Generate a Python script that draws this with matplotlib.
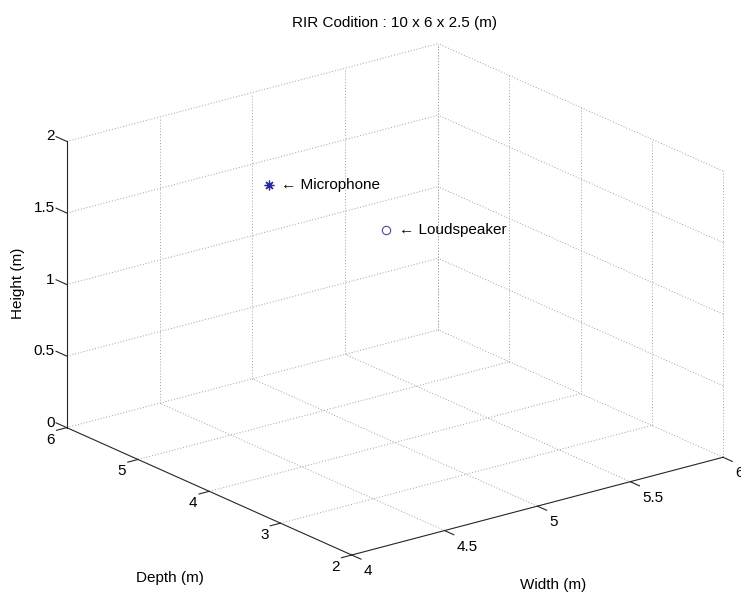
import numpy as np
import matplotlib
matplotlib.use('Agg')
import matplotlib.pyplot as plt

plt.rcParams['font.family'] = ['Liberation Sans', 'DejaVu Sans']

# ---------------- data ----------------
title = 'RIR Codition : 10 x 6 x 2.5 (m)'
width_ticks = [4, 4.5, 5, 5.5, 6]
width_labels = ['4', '4.5', '5', '5.5', '6']
depth_ticks = [2, 3, 4, 5, 6]
depth_labels = ['2', '3', '4', '5', '6']
height_ticks = [0, 0.5, 1, 1.5, 2]
height_labels = ['0', '0.5', '1', '1.5', '2']
mic_pos = [4.9, 5.5, 1.5]          # width, depth, height
speaker_pos = [4.95, 4.0, 1.5]
mic_label = '\u2190 Microphone'
speaker_label = '\u2190 Loudspeaker'

# ---------------- figure ----------------
W, H = 741, 593
fig = plt.figure(figsize=(W / 100, H / 100), dpi=100)
ax = fig.add_axes([0, 0, 1, 1], projection='3d', proj_type='ortho')
ax.set_box_aspect((1, 1, 0.651))
ax.view_init(elev=20.06, azim=-127.5)
ax.set_axis_off()

x0, x1 = width_ticks[0], width_ticks[-1]
y0, y1 = depth_ticks[0], depth_ticks[-1]
z0, z1 = height_ticks[0], height_ticks[-1]

FS = 11
grid_kw = dict(color='#a0a0a0', lw=0.7, ls=(0, (1, 2)))
axis_kw = dict(color='#262626', lw=0.8)

# grid on floor (z = z0)
for xv in width_ticks[1:]:
    ax.plot([xv, xv], [y0, y1], [z0, z0], **grid_kw)
for yv in depth_ticks[1:]:
    ax.plot([x0, x1], [yv, yv], [z0, z0], **grid_kw)
# grid on back wall y = y1
for xv in width_ticks[1:]:
    ax.plot([xv, xv], [y1, y1], [z0, z1], **grid_kw)
for zv in height_ticks[1:]:
    ax.plot([x0, x1], [y1, y1], [zv, zv], **grid_kw)
# grid on back wall x = x1
for yv in depth_ticks:
    ax.plot([x1, x1], [yv, yv], [z0, z1], **grid_kw)
for zv in height_ticks[1:]:
    ax.plot([x1, x1], [y0, y1], [zv, zv], **grid_kw)

# axis lines
ax.plot([x0, x1], [y0, y0], [z0, z0], **axis_kw)
ax.plot([x0, x0], [y0, y1], [z0, z0], **axis_kw)
ax.plot([x0, x0], [y1, y1], [z0, z1], **axis_kw)

# tick marks
for xv in width_ticks:
    ax.plot([xv, xv], [y0, y0 - 0.13], [z0, z0], **axis_kw)
for yv in depth_ticks:
    ax.plot([x0, x0 - 0.055], [yv, yv], [z0, z0], **axis_kw)
for zv in height_ticks:
    ax.plot([x0, x0], [y1, y1 + 0.15], [zv, zv], **axis_kw)

# points
ax.plot([mic_pos[0]], [mic_pos[1]], [mic_pos[2]], ls='none', marker=(8, 2, 0),
        ms=7, color='#2b2b9a', mew=0.9)
ax.plot([speaker_pos[0]], [speaker_pos[1]], [speaker_pos[2]], ls='none',
        marker='o', ms=6, mfc='none', mec='#4b4b9b', mew=0.8)

ax.set_xlim(x0, x1)
ax.set_ylim(y0, y1)
ax.set_zlim(z0, z1)

# ---------------- calibrate layout ----------------
fig.canvas.draw()


def to_px(x, y, z):
    M = ax.get_proj()
    v = M @ np.array([x, y, z, 1.0])
    v = v[:3] / v[3]
    return ax.transData.transform((v[0], v[1]))


O = to_px(x0, y0, z0)
L = to_px(x0, y1, z0)
R = to_px(x1, y0, z0)
s = (723.0 - 66.7) / (R[0] - L[0])
bb = ax.get_position()
bx0, by0, bw = bb.x0 * W, bb.y0 * H, bb.width * W
fo = (O - np.array([bx0, by0])) / bw
new_w = bw * s
tx, ty = 351.7, H - 555.0
nx0 = tx - fo[0] * new_w
ny0 = ty - fo[1] * new_w
ax.set_position([nx0 / W, ny0 / H, new_w / W, new_w / H])
fig.canvas.draw()


def label_at(x, y, z, text, dx, dy, **kw):
    px, py = to_px(x, y, z)
    fig.text((px + dx) / W, (py + dy) / H, text, fontsize=FS, **kw)


# tick labels
for xv, lab in zip(width_ticks, width_labels):
    label_at(xv, y0, z0, lab, 12, -16, ha='left', va='center')
for yv, lab in zip(depth_ticks, depth_labels):
    label_at(x0, yv, z0, lab, -12, -12, ha='right', va='center')
for zv, lab in zip(height_ticks, height_labels):
    label_at(x0, y1, zv, lab, -12, 5, ha='right', va='center')

# point labels
label_at(*mic_pos, mic_label, 12, 0, ha='left', va='center')
label_at(*speaker_pos, speaker_label, 13, 0, ha='left', va='center')

# axis labels & title
fig.text(170 / W, 1 - 578 / H, 'Depth (m)', ha='center', va='center', fontsize=FS)
fig.text(553 / W, 1 - 585 / H, 'Width (m)', ha='center', va='center', fontsize=FS)
fig.text(18 / W, 1 - 283 / H, 'Height (m)', ha='center', va='center',
         rotation=90, fontsize=FS)
fig.text(394 / W, 1 - 23 / H, title, ha='center', va='center', fontsize=FS)

fig.savefig('out.png', dpi=100)
